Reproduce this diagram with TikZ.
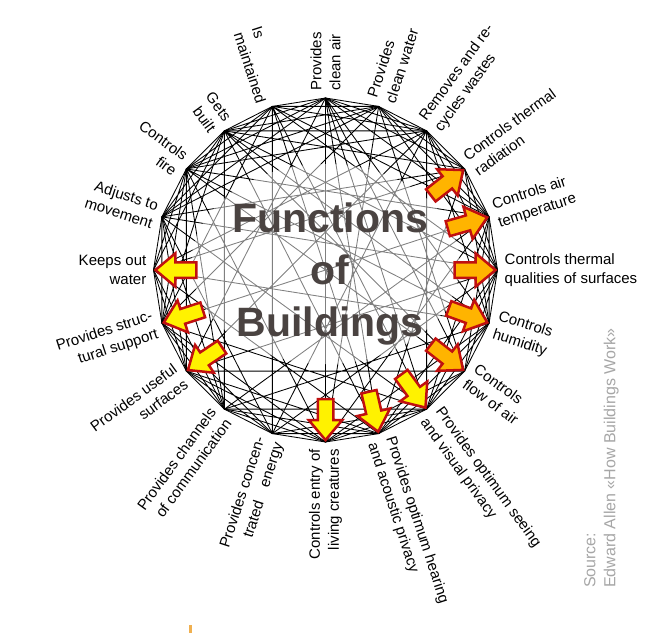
\documentclass[tikz,border=0pt]{standalone}
\usepackage{fontspec}
\setmainfont{Liberation Sans}
\usepackage{tikz}
\usetikzlibrary{shapes.arrows}

\definecolor{arrowred}{HTML}{C01010}
\definecolor{warmorange}{HTML}{FFB400}
\definecolor{titlegray}{HTML}{4A4341}
\definecolor{sourcegray}{HTML}{A6A6A6}
\definecolor{markorange}{HTML}{F0B050}

\tikzset{
  link/.style={line width=0.85pt, line join=round},
  pointer/.style={single arrow, draw=arrowred, line width=2.5pt,
    minimum height=41pt, minimum width=31pt, inner sep=6.5pt,
    single arrow head extend=9pt, single arrow tip angle=80, anchor=tip},
  cold/.style={pointer, fill=yellow},
  warm/.style={pointer, fill=warmorange},
  outlabel/.style={anchor=west, align=left, inner sep=0pt, font={\fontsize{15}{19}\selectfont}},
  inlabel/.style={anchor=east, align=right, inner sep=0pt, font={\fontsize{15}{19}\selectfont}},
}

\begin{document}
\begin{tikzpicture}[x=1pt, y=1pt]
\useasboundingbox (-325.5,-363) rectangle (319.5,270);

% corners of the circle
\coordinate (a) at (90:172);
\coordinate (b) at (108:172);
\coordinate (c) at (126:172);
\coordinate (d) at (144:172);
\coordinate (e) at (162:172);
\coordinate (f) at (180:172);
\coordinate (g) at (198:172);
\coordinate (h) at (216:172);
\coordinate (i) at (234:172);
\coordinate (j) at (252:172);
\coordinate (k) at (270:172);
\coordinate (l) at (288:172);
\coordinate (m) at (306:172);
\coordinate (n) at (324:172);
\coordinate (o) at (342:172);
\coordinate (p) at (0:172);
\coordinate (q) at (18:172);
\coordinate (r) at (36:172);
\coordinate (s) at (54:172);
\coordinate (t) at (72:172);

% short links
\draw[link] (a) -- (b) -- (c) -- (d) -- (e) -- (f) -- (g) -- (h) -- (i) -- (j) -- (k)
  -- (l) -- (m) -- (n) -- (o) -- (p) -- (q) -- (r) -- (s) -- (t) -- cycle;
\draw[link] (a) -- (c) -- (e) -- (g) -- (i) -- (k) -- (m) -- (o) -- (q) -- (s) -- cycle
  (b) -- (d) -- (f) -- (h) -- (j) -- (l) -- (n) -- (p) -- (r) -- (t) -- cycle;
\draw[link] (a) -- (d) -- (g) -- (j) -- (m) -- (p) -- (s) -- (b) -- (e) -- (h) -- (k)
  -- (n) -- (q) -- (t) -- (c) -- (f) -- (i) -- (l) -- (o) -- (r) -- cycle;
\draw[link] (a) -- (e) -- (i) -- (m) -- (q) -- cycle
  (c) -- (g) -- (k) -- (o) -- (s) -- cycle
  (d) -- (h) -- (l) -- (p) -- (t) -- cycle;

% long links
\draw[link] (a) -- (h) (a) -- (k) (a) -- (n) (a) -- (l) (a) -- (m) (a) -- (o)
  (b) -- (g) (b) -- (j) (b) -- (m) (b) -- (p) (b) -- (l) (b) -- (q)
  (c) -- (i) (c) -- (l) (c) -- (o) (c) -- (n) (c) -- (p) (c) -- (r)
  (d) -- (i) (d) -- (k) (d) -- (n) (d) -- (q) (d) -- (o) (d) -- (s)
  (e) -- (j) (e) -- (m) (e) -- (p) (e) -- (r) (e) -- (t)
  (f) -- (l) (f) -- (o) (f) -- (r) (f) -- (s)
  (g) -- (m) (g) -- (q) (g) -- (t)
  (h) -- (n) (h) -- (p) (h) -- (s)
  (i) -- (o) (i) -- (q)
  (j) -- (p) (j) -- (s)
  (k) -- (q) (k) -- (t)
  (l) -- (r) (m) -- (s) (n) -- (t);

% pale middle
\fill[white, opacity=0.5] (0,6) ellipse [x radius=134pt, y radius=100pt];

% arrows
\node[cold, rotate=180] (wf) at (f) {};
\node[cold, rotate=198] (wg) at (g) {};
\node[cold, rotate=214] (wh) at (h) {};
\node[cold, rotate=270] (wk) at (k) {};
\node[cold, rotate=283] (wl) at (l) {};
\node[cold, rotate=306] (wm) at (m) {};
\node[warm, rotate=322] (wn) at (n) {};
\node[warm, rotate=340] (wo) at (o) {};
\node[warm, rotate=0] (wp) at (p) {};
\node[warm, rotate=16] (wq) at (q) {};
\node[warm, rotate=38] (wr) at (r) {};

\node[align=center, inner sep=0pt, text=titlegray,
  font={\fontsize{41}{52}\selectfont\bfseries}] (title) at (4.5,-4) {Functions\\of\\Buildings};

% labels
\node[outlabel, rotate=90] (la) at (90:179) {Provides\\clean air};
\node[inlabel, align=left, rotate=288] (lb) at (108:179) {Is\\maintained};
\node[inlabel, rotate=306] (lc) at (126:179) {Gets\\built};
\node[inlabel, rotate=324] (ld) at (144:179) {Controls\\fire};
\node[inlabel, rotate=342] (le) at (162:179) {Adjusts to\\movement};
\node[inlabel, rotate=0] (lf) at (180:179) {Keeps out\\water};
\node[inlabel, rotate=18] (lg) at (198:179) {Provides struc-\\tural support};
\node[inlabel, rotate=36] (lh) at (216:179) {Provides useful\\surfaces};
\node[inlabel, rotate=54] (li) at (234:179) {Provides channels\\of communication};
\node[inlabel, rotate=72] (lj) at (252:179) {Provides concen-\\trated\quad energy};
\node[inlabel, rotate=90] (lk) at (270:179) {Controls entry of\\living creatures};
\node[outlabel, rotate=288] (ll) at (288:179) {Provides optimum hearing\\and acoustic privacy};
\node[outlabel, rotate=306] (lm) at (306:179) {Provides optimum seeing\\and visual privacy};
\node[outlabel, rotate=324] (ln) at (324:179) {Controls\\flow of air};
\node[outlabel, rotate=342] (lo) at (342:179) {Controls\\humidity};
\node[outlabel, rotate=0] (lp) at (0:179) {Controls thermal\\qualities of surfaces};
\node[outlabel, rotate=18] (lq) at (18:179) {Controls air\\temperature};
\node[outlabel, rotate=36] (lr) at (36:179) {Controls thermal\\radiation};
\node[outlabel, rotate=54] (ls) at (54:179) {Removes and re-\\cycles wastes};
\node[outlabel, rotate=72] (lt) at (72:179) {Provides\\clean water};

\node[align=left, inner sep=0pt, text=sourcegray, rotate=90, anchor=north west,
  font={\fontsize{16}{20}\selectfont}] (src) at (258.5,-318) {Source:\\Edward Allen «How Buildings Work»};

\fill[markorange] (-136,-363) rectangle (-133,-355);
\end{tikzpicture}
\end{document}
